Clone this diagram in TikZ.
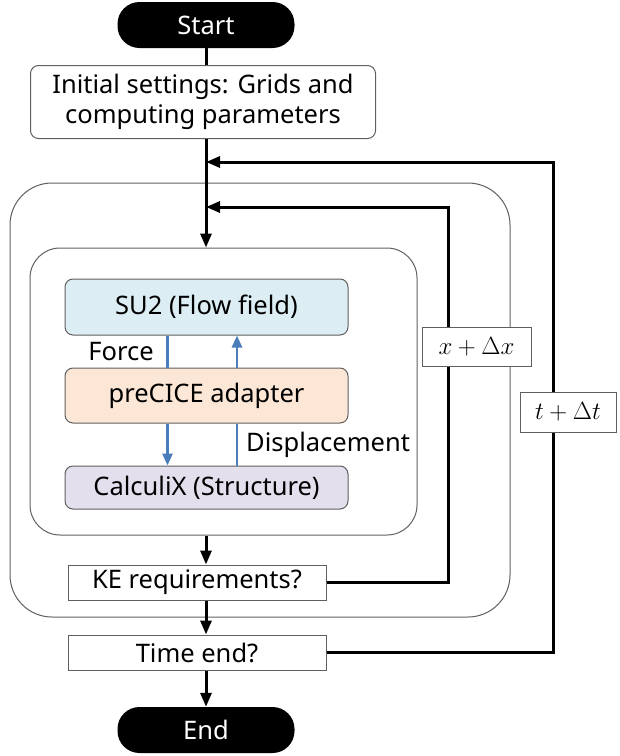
\documentclass[tikz,border=0pt]{standalone}
\usepackage{fontspec}
\setmainfont{Noto Sans}
\usetikzlibrary{arrows.meta}
\definecolor{boxgray}{RGB}{95,95,95}
\definecolor{flowblue}{RGB}{220,238,243}
\definecolor{adaptorange}{RGB}{252,230,214}
\definecolor{structpurple}{RGB}{228,223,236}
\definecolor{linkblue}{RGB}{74,126,187}

\begin{document}
\begin{tikzpicture}[x=1pt,y=-1pt,font=\fontsize{25.5}{30}\selectfont,
    term/.style={fill=black,text=white,rounded corners=22pt,minimum width=177pt,minimum height=46pt},
    roundbox/.style={draw=boxgray,line width=1pt,rounded corners=8pt,minimum width=283pt,inner sep=0pt},
    testbox/.style={draw=boxgray,line width=1pt,fill=white,minimum width=258pt,minimum height=35pt,inner sep=0pt},
    stepbox/.style={draw=boxgray,line width=1pt,fill=white,minimum height=39pt,inner sep=0pt,
        font=\fontsize{29}{32}\selectfont},
    flow/.style={line width=3pt,-{Triangle[length=14pt,width=11pt]}},
    link/.style={line width=2.6pt,draw=linkblue},
    linkarrow/.style={link,-{Triangle[length=12pt,width=10pt]},linkblue}]
    \useasboundingbox (0,0) rectangle (620,756);
    % loop containers
    \node[draw=boxgray,line width=1pt,rounded corners=42pt,minimum width=500pt,minimum height=434pt] (outer) at (260,400) {};
    \node[draw=boxgray,line width=1pt,rounded corners=30pt,minimum width=387pt,minimum height=287pt] (inner) at (223.5,391.5) {};
    % main column
    \node[term] (start) at (206,25) {Start};
    \node[draw=boxgray,line width=1pt,rounded corners=8pt,minimum width=345pt,minimum height=73pt,align=center,inner sep=0pt]
        (init) at (203,102) {Initial settings: Grids and\\computing parameters};
    \node[roundbox,fill=flowblue,minimum height=56pt] (su2) at (206.5,307) {SU2 (Flow field)};
    \node[roundbox,fill=adaptorange,minimum height=55pt] (pre) at (206.5,395.5) {preCICE adapter};
    \node[roundbox,fill=structpurple,minimum height=43pt] (ccx) at (206.5,487.5) {CalculiX (Structure)};
    \node[testbox] (ke) at (197,582.5) {KE requirements?};
    \node[testbox] (tend) at (197,652.5) {Time end?};
    \node[term] (stop) at (206,730) {End};
    % coupling between the solvers
    \draw[link] ([xshift=-39pt]su2.south) -- ([xshift=-39pt]pre.north);
    \draw[linkarrow] ([xshift=-39pt]pre.south) -- ([xshift=-39pt]ccx.north);
    \draw[link] ([xshift=30.5pt]ccx.north) -- ([xshift=30.5pt]pre.south);
    \draw[linkarrow] ([xshift=30.5pt]pre.north) -- ([xshift=30.5pt]su2.south);
    \node[anchor=east,inner sep=0pt] (force) at (154,352) {Force};
    \node[anchor=west,inner sep=0pt] (disp) at (246,445) {Displacement};
    % forward arrows
    \draw[line width=3pt] (start.south) -- (start.south |- init.north);
    \draw[flow] (init.south -| start.south) -- (inner.north -| start.south);
    \draw[flow] (inner.south -| start.south) -- (ke.north -| start.south);
    \draw[flow] (ke.south -| start.south) -- (tend.north -| start.south);
    \draw[flow] (tend.south -| start.south) -- (stop.north);
    % return loops
    \coordinate (kein) at (206,207);
    \coordinate (kecorner) at (448,207);
    \coordinate (tin) at (206,162);
    \coordinate (tcorner) at (553,162);
    \draw[flow] (ke.east) -| (kecorner) -- (kein);
    \draw[flow] (tend.east) -| (tcorner) -- (tin);
    \node[stepbox,minimum width=109pt] (dx) at (476.5,346.5) {$x+\Delta x$};
    \node[stepbox,minimum width=96pt,minimum height=40pt] (dt) at (568,412) {$t+\Delta t$};
\end{tikzpicture}
\end{document}
